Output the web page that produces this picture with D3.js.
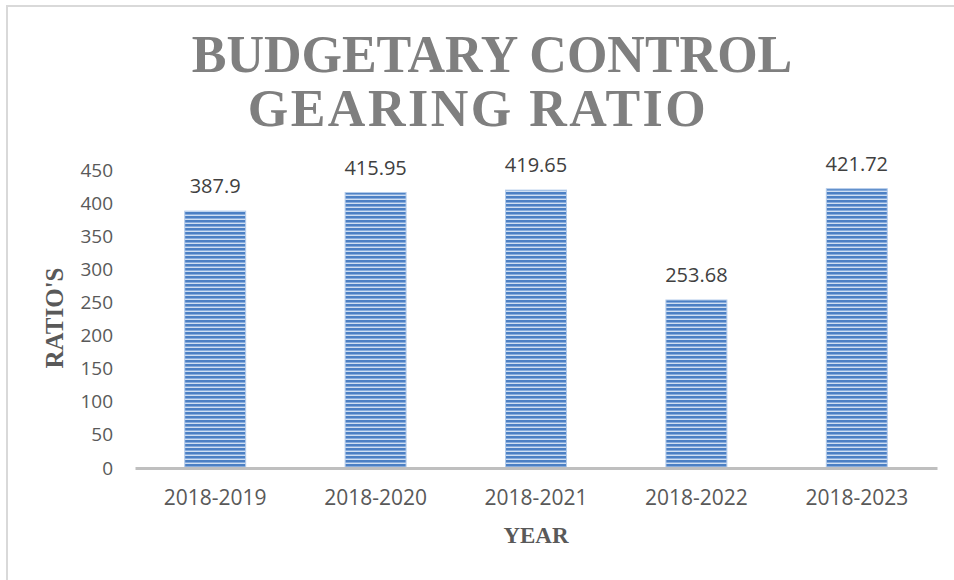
<!DOCTYPE html>
<html>
<head>
<meta charset="utf-8">
<script src="https://cdn.jsdelivr.net/npm/d3@7"></script>
<style>
  body { margin: 0; background: #fff; }
</style>
</head>
<body>
<svg id="chart" width="954" height="580"></svg>
<script>
const years = ["2018-2019", "2018-2020", "2018-2021", "2018-2022", "2018-2023"];
const ratios = [387.9, 415.95, 419.65, 253.68, 421.72];
const yTicks = [0, 50, 100, 150, 200, 250, 300, 350, 400, 450];
const titleLines = ["BUDGETARY CONTROL", "GEARING RATIO"];

const svg = d3.select("#chart");
const margin = { left: 135, right: 17, top: 170, bottom: 112 };
const width = 954, height = 580;

// outer frame (left + top only, like the cropped source)
svg.append("path")
  .attr("d", "M7," + height + " V6 H" + width)
  .attr("fill", "none")
  .attr("stroke", "#d9d9d9")
  .attr("stroke-width", 2);

// striped fill for bars
const defs = svg.append("defs");
const pat = defs.append("pattern")
  .attr("id", "stripes")
  .attr("patternUnits", "userSpaceOnUse")
  .attr("width", 8).attr("height", 4);
pat.append("rect").attr("width", 8).attr("height", 4).attr("fill", "#d0dff2");
pat.append("rect").attr("y", 0).attr("width", 8).attr("height", 2).attr("fill", "#4c80c4");
pat.append("rect").attr("y", 2).attr("width", 8).attr("height", 1).attr("fill", "#86abdc");

const x = d3.scaleBand()
  .domain(years)
  .range([margin.left, width - margin.right])
  .paddingInner(0.62)
  .paddingOuter(0.31);

const y = d3.scaleLinear()
  .domain([0, 450])
  .range([height - margin.bottom, margin.top]);

// title, two centred lines
svg.append("text")
  .attr("text-anchor", "middle")
  .attr("font-family", "'Liberation Serif', 'DejaVu Serif', serif")
  .attr("font-weight", "bold")
  .attr("font-size", 52)
  .attr("fill", "#7f7f7f")
  .selectAll("tspan")
  .data(titleLines)
  .join("tspan")
  .attr("x", (d, i) => i === 0 ? 492 : 478)
  .attr("y", (d, i) => 72 + i * 54)
  .attr("letter-spacing", (d, i) => i === 0 ? 0 : 2.5)
  .text(d => d);

// y axis labels
const yAxis = svg.append("g")
  .attr("transform", "translate(" + (margin.left - 22) + ",0)")
  .call(d3.axisLeft(y).tickValues(yTicks).tickSize(0).tickPadding(0));
yAxis.select(".domain").remove();
yAxis.selectAll("text")
  .attr("font-family", "'Open Sans', sans-serif")
  .attr("font-size", 19)
  .attr("fill", "#595959");

// bars
svg.selectAll("rect.bar")
  .data(ratios)
  .join("rect")
  .attr("class", "bar")
  .attr("x", (d, i) => x(years[i]))
  .attr("width", x.bandwidth())
  .attr("y", d => y(d))
  .attr("height", d => y(0) - y(d))
  .attr("fill", "url(#stripes)")
  .attr("stroke", "#b3cbea")
  .attr("stroke-width", 1);

// value labels
svg.selectAll("text.val")
  .data(ratios)
  .join("text")
  .attr("class", "val")
  .attr("x", (d, i) => x(years[i]) + x.bandwidth() / 2)
  .attr("y", d => y(d) - 18)
  .attr("text-anchor", "middle")
  .attr("font-family", "'Open Sans', sans-serif")
  .attr("font-size", 20)
  .attr("fill", "#404040")
  .text(d => d);

// x axis
const xAxis = svg.append("g")
  .attr("transform", "translate(0," + y(0) + ")")
  .call(d3.axisBottom(x).tickSize(0).tickPadding(22));
xAxis.select(".domain")
  .attr("stroke", "#bfbfbf")
  .attr("stroke-width", 3);
xAxis.selectAll("text")
  .attr("font-family", "'Open Sans', sans-serif")
  .attr("font-size", 21)
  .attr("fill", "#595959");

// axis titles
svg.append("text")
  .attr("x", x.range()[0] + (x.range()[1] - x.range()[0]) / 2)
  .attr("y", 543)
  .attr("text-anchor", "middle")
  .attr("font-family", "'Liberation Serif', serif")
  .attr("font-weight", "bold")
  .attr("font-size", 23)
  .attr("fill", "#595959")
  .text("YEAR");

svg.append("text")
  .attr("transform", "translate(63,318) rotate(-90)")
  .attr("text-anchor", "middle")
  .attr("font-family", "'Liberation Serif', serif")
  .attr("font-weight", "bold")
  .attr("font-size", 25)
  .attr("fill", "#595959")
  .text("RATIO'S");
</script>
</body>
</html>
